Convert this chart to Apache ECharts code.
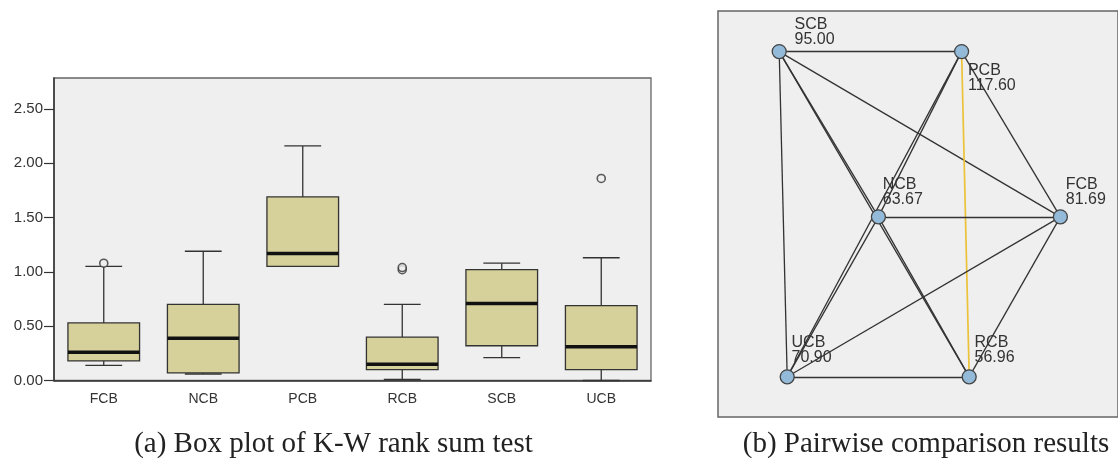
<!DOCTYPE html>
<html>
<head>
<meta charset="utf-8">
<script src="https://cdn.jsdelivr.net/npm/echarts@6/dist/echarts.min.js"></script>
<style>
html,body{margin:0;padding:0;background:#fff;}
#chart{width:1118px;height:464px;}
</style>
</head>
<body>
<div id="chart"></div>
<script>
// ---------- Data: box plot (a) ----------
var categories = ['FCB', 'NCB', 'PCB', 'RCB', 'SCB', 'UCB'];
// [lower whisker, Q1, median, Q3, upper whisker]
var boxStats = [
  [0.14, 0.18, 0.26, 0.53, 1.05],
  [0.06, 0.07, 0.39, 0.70, 1.19],
  [1.05, 1.05, 1.17, 1.69, 2.16],
  [0.01, 0.10, 0.15, 0.40, 0.70],
  [0.21, 0.32, 0.71, 1.02, 1.08],
  [0.00, 0.10, 0.31, 0.69, 1.13]
];
// outliers: [category index, value]
var outliers = [[0, 1.08], [3, 1.02], [3, 1.04], [5, 1.86]];
var yTicks = [0, 0.5, 1.0, 1.5, 2.0, 2.5];

// ---------- Data: pairwise comparison graph (b) ----------
var nodeNames = ['SCB', 'PCB', 'NCB', 'FCB', 'UCB', 'RCB'];
var meanRanks = ['95.00', '117.60', '63.67', '81.69', '70.90', '56.96'];
// layout coordinates of the nodes in the diagram (abstract units 0-100)
var nodeX = [15.3, 60.9, 40.1, 85.6, 17.3, 62.8];
var nodeY = [90.0, 90.0, 49.3, 49.3, 9.9, 9.9];
var edges = [
  ['SCB', 'PCB'], ['SCB', 'NCB'], ['SCB', 'FCB'], ['SCB', 'UCB'], ['SCB', 'RCB'],
  ['PCB', 'NCB'], ['PCB', 'FCB'], ['PCB', 'UCB'], ['PCB', 'RCB'],
  ['NCB', 'FCB'], ['NCB', 'UCB'], ['NCB', 'RCB'],
  ['FCB', 'UCB'], ['FCB', 'RCB'], ['UCB', 'RCB']
];
var significantEdges = [['PCB', 'RCB']];

// ---------- Styling (not data) ----------
var labelOffsets = {
  SCB: [23, -27], PCB: [14, 19], NCB: [12, -32],
  FCB: [13, -32], UCB: [12, -34], RCB: [13, -34]
};

var chart = echarts.init(document.getElementById('chart'), null, {renderer: 'canvas'});

var boxData = boxStats.map(function (s, i) { return [i].concat(s); });

function renderBox(params, api) {
  var idx = api.value(0);
  var band = api.size([1, 0])[0];
  var bw = band * 0.72, cw = band * 0.37;
  var pMin = api.coord([idx, api.value(1)]);
  var pQ1 = api.coord([idx, api.value(2)]);
  var pMed = api.coord([idx, api.value(3)]);
  var pQ3 = api.coord([idx, api.value(4)]);
  var pMax = api.coord([idx, api.value(5)]);
  var cx = pMed[0];
  var line = {stroke: '#333', lineWidth: 1.3};
  return {
    type: 'group',
    children: [
      {type: 'line', shape: {x1: cx, y1: pQ3[1], x2: cx, y2: pMax[1]}, style: line},
      {type: 'line', shape: {x1: cx - cw / 2, y1: pMax[1], x2: cx + cw / 2, y2: pMax[1]}, style: line},
      {type: 'line', shape: {x1: cx, y1: pQ1[1], x2: cx, y2: pMin[1]}, style: line},
      {type: 'line', shape: {x1: cx - cw / 2, y1: pMin[1], x2: cx + cw / 2, y2: pMin[1]}, style: line},
      {type: 'rect', shape: {x: cx - bw / 2, y: pQ3[1], width: bw, height: pQ1[1] - pQ3[1]},
        style: {fill: '#d6d09b', stroke: '#333', lineWidth: 1.3}},
      {type: 'line', shape: {x1: cx - bw / 2, y1: pMed[1], x2: cx + bw / 2, y2: pMed[1]},
        style: {stroke: '#111', lineWidth: 3.5}}
    ]
  };
}

var graphNodes = nodeNames.map(function (n, i) {
  return {
    name: n,
    value: [nodeX[i], nodeY[i]],
    rank: meanRanks[i],
    label: {position: labelOffsets[n]}
  };
});
function isSig(a, b) {
  return significantEdges.some(function (e) {
    return (e[0] === a && e[1] === b) || (e[0] === b && e[1] === a);
  });
}
var graphLinks = edges.map(function (e) {
  var sig = isSig(e[0], e[1]);
  return {
    source: e[0], target: e[1],
    lineStyle: sig ? {color: '#ecc239', width: 1.7, opacity: 1} : {color: '#333', width: 1.3, opacity: 1}
  };
});

var option = {
  backgroundColor: '#ffffff',
  animation: false,
  grid: [
    {left: 54, top: 78, width: 597, height: 302.5, show: true, backgroundColor: '#efefef',
      borderColor: '#666', borderWidth: 1.3},
    {left: 718, top: 11, width: 404, height: 406, show: true, backgroundColor: '#efefef',
      borderColor: '#666', borderWidth: 1.5}
  ],
  xAxis: [
    {type: 'category', gridIndex: 0, data: categories, boundaryGap: true,
      axisLine: {lineStyle: {color: '#333', width: 1.5}},
      axisTick: {alignWithLabel: true, length: 9, lineStyle: {color: '#333', width: 1.2}},
      axisLabel: {color: '#333', fontSize: 14, margin: 12, fontFamily: 'Liberation Sans'},
      splitLine: {show: false}},
    {type: 'value', gridIndex: 1, min: 0, max: 100, show: false}
  ],
  yAxis: [
    {type: 'value', gridIndex: 0, min: 0, max: 2.785, interval: 0.5,
      axisLine: {show: true, lineStyle: {color: '#333', width: 1.5}},
      axisTick: {show: true, length: 10, customValues: yTicks, lineStyle: {color: '#333', width: 1.2}},
      axisLabel: {color: '#333', fontSize: 15, margin: 11, fontFamily: 'Liberation Sans',
        customValues: yTicks,
        formatter: function (v) { return v.toFixed(2); }},
      splitLine: {show: false}},
    {type: 'value', gridIndex: 1, min: 0, max: 100, show: false}
  ],
  series: [
    {type: 'custom', xAxisIndex: 0, yAxisIndex: 0, data: boxData, renderItem: renderBox,
      encode: {x: 0, y: [1, 2, 3, 4, 5]}, z: 2},
    {type: 'scatter', xAxisIndex: 0, yAxisIndex: 0, data: outliers, symbol: 'circle', symbolSize: 8,
      itemStyle: {color: '#efefef', borderColor: '#333', borderWidth: 1.6}, z: 3},
    {type: 'graph', coordinateSystem: 'cartesian2d', xAxisIndex: 1, yAxisIndex: 1,
      layout: 'none', symbol: 'circle', symbolSize: 14,
      itemStyle: {color: '#93bad8', borderColor: '#444', borderWidth: 1.3},
      label: {show: true, color: '#333', fontSize: 16, lineHeight: 15, fontFamily: 'Liberation Sans',
        align: 'left', verticalAlign: 'top',
        formatter: function (p) { return p.name + '\n' + p.data.rank; }},
      emphasis: {disabled: true},
      edgeSymbol: ['none', 'none'],
      data: graphNodes, links: graphLinks, z: 4}
  ],
  graphic: [
    {type: 'text', x: 333.5, y: 444, style: {text: '(a) Box plot of K-W rank sum test',
      font: '29px "Liberation Serif"', fill: '#222', align: 'center', verticalAlign: 'middle'}},
    {type: 'text', x: 926, y: 444, style: {text: '(b) Pairwise comparison results',
      font: '29px "Liberation Serif"', fill: '#222', align: 'center', verticalAlign: 'middle'}}
  ]
};
chart.setOption(option);
</script>
</body>
</html>
